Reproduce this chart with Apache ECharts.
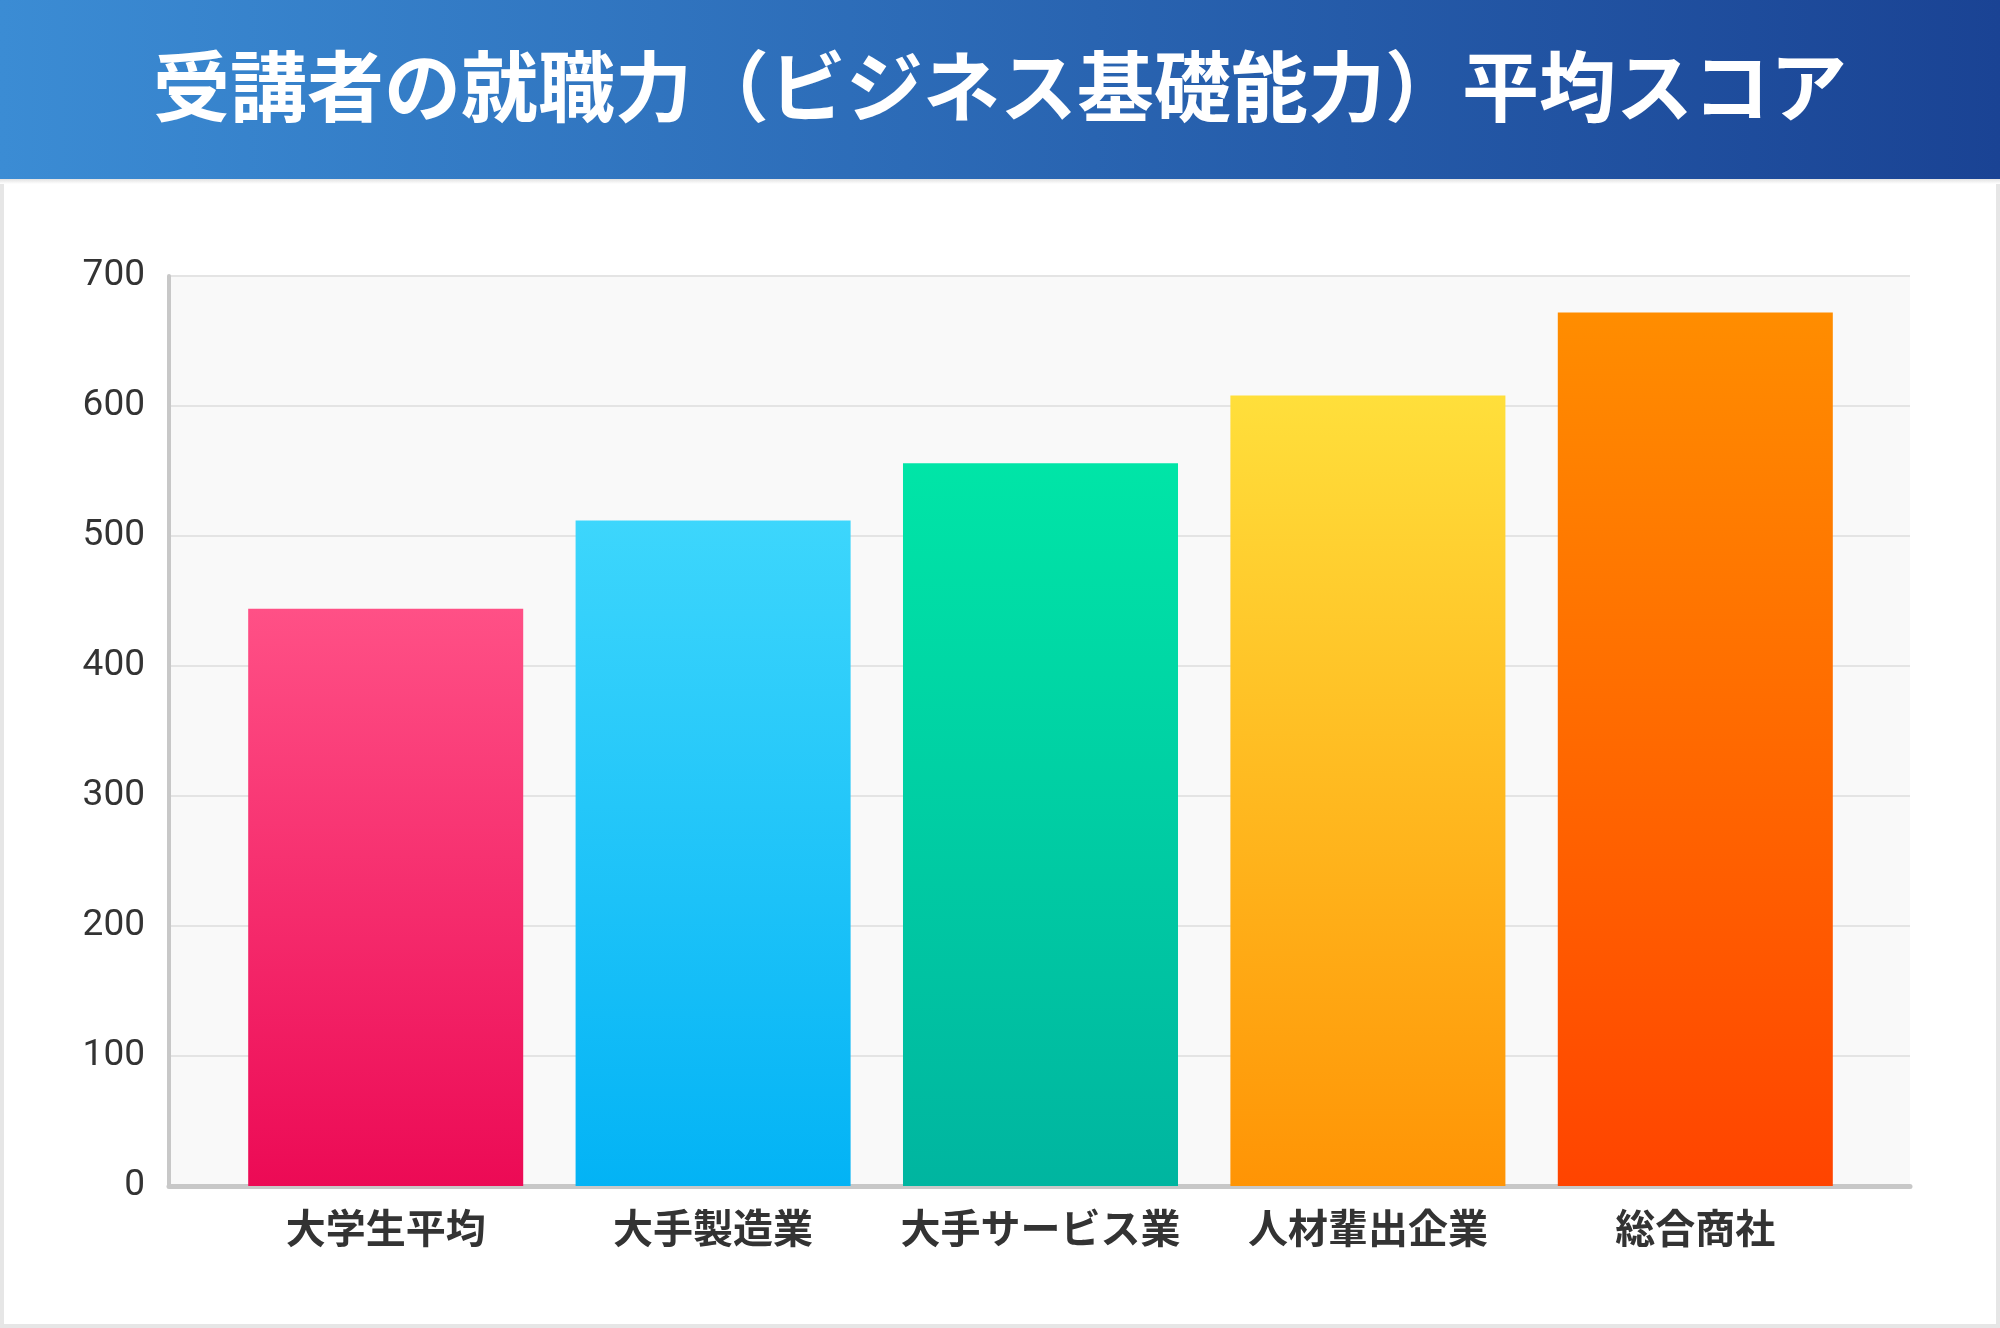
<!DOCTYPE html>
<html>
<head>
<meta charset="utf-8">
<script src="https://cdn.jsdelivr.net/npm/echarts@6/dist/echarts.min.js"></script>
<style>
html,body{margin:0;padding:0;background:#e6e6e6;}
#chart{width:2000px;height:1328px;}
</style>
</head>
<body>
<div id="chart"></div>
<script>
// ---- data ----
const titleText = '受講者の就職力（ビジネス基礎能力）平均スコア';
const categories = ['大学生平均', '大手製造業', '大手サービス業', '人材輩出企業', '総合商社'];
const scores = [444, 512, 556, 608, 672];
const yTicks = [0, 100, 200, 300, 400, 500, 600, 700];

// ---- styles ----
const barGradients = [
  ['#ff5086', '#ec0a55'],
  ['#3dd6fc', '#03b3f5'],
  ['#00e5a7', '#00b5a0'],
  ['#ffdf3b', '#ff9405'],
  ['#ff8d00', '#ff4400']
];

const chart = echarts.init(document.getElementById('chart'), null, {renderer: 'canvas'});

const barData = scores.map((v, i) => ({
  value: v,
  itemStyle: {
    color: new echarts.graphic.LinearGradient(0, 0, 0, 1, [
      {offset: 0, color: barGradients[i][0]},
      {offset: 1, color: barGradients[i][1]}
    ])
  }
}));

const option = {
  backgroundColor: '#e6e6e6',
  animation: false,
  graphic: [
    {type: 'rect', z: -10, shape: {x: 4, y: 178, width: 1992, height: 1146}, style: {fill: '#ffffff'}},
    {type: 'rect', z: -9, shape: {x: 0, y: 178, width: 2000, height: 6},
      style: {fill: new echarts.graphic.LinearGradient(0, 0, 0, 1, [
        {offset: 0, color: '#dcdcdc'}, {offset: 1, color: '#ffffff'}])}},
    {type: 'rect', z: -8, shape: {x: 0, y: 0, width: 2000, height: 179},
      style: {fill: new echarts.graphic.LinearGradient(0, 0, 1, 0, [
        {offset: 0, color: '#3b8cd4'}, {offset: 1, color: '#1a4394'}])}}
  ],
  title: {
    text: titleText,
    left: 'center',
    top: 42,
    textStyle: {
      color: '#ffffff',
      fontSize: 77,
      fontWeight: 'bold',
      fontFamily: 'Noto Sans CJK JP',
      lineHeight: 80
    }
  },
  grid: [
    {left: 169, right: 90, top: 276, bottom: 142, show: true, backgroundColor: '#f9f9f9', borderWidth: 0, containLabel: false},
    {left: 222, right: 141, top: 276, bottom: 142, containLabel: false}
  ],
  xAxis: [
    {
      gridIndex: 0, type: 'category', data: categories,
      axisLine: {show: true, lineStyle: {color: '#c8c8c8', width: 5}},
      axisTick: {show: false}, axisLabel: {show: false}, splitLine: {show: false}
    },
    {
      gridIndex: 1, type: 'category', data: categories,
      axisLine: {show: false}, axisTick: {show: false},
      axisLabel: {
        show: true, interval: 0, margin: 22, color: '#333333', fontSize: 40,
        fontWeight: 'bold', fontFamily: 'Noto Sans CJK JP'
      }
    }
  ],
  yAxis: [
    {
      gridIndex: 0, type: 'value', min: yTicks[0], max: yTicks[yTicks.length - 1], interval: 100,
      axisLine: {show: true, lineStyle: {color: '#c8c8c8', width: 4}},
      axisTick: {show: false},
      axisLabel: {margin: 24, color: '#333333', fontSize: 37, fontFamily: 'Roboto', padding: [8, 0, 0, 0]},
      splitLine: {show: true, lineStyle: {color: '#e4e4e4', width: 2}}
    },
    {
      gridIndex: 1, type: 'value', min: yTicks[0], max: yTicks[yTicks.length - 1], interval: 100,
      show: false, splitLine: {show: false}
    }
  ],
  series: [{
    type: 'bar',
    xAxisIndex: 1,
    yAxisIndex: 1,
    data: barData,
    barCategoryGap: '16%',
    z: 3
  }]
};
chart.setOption(option);
</script>
</body>
</html>
